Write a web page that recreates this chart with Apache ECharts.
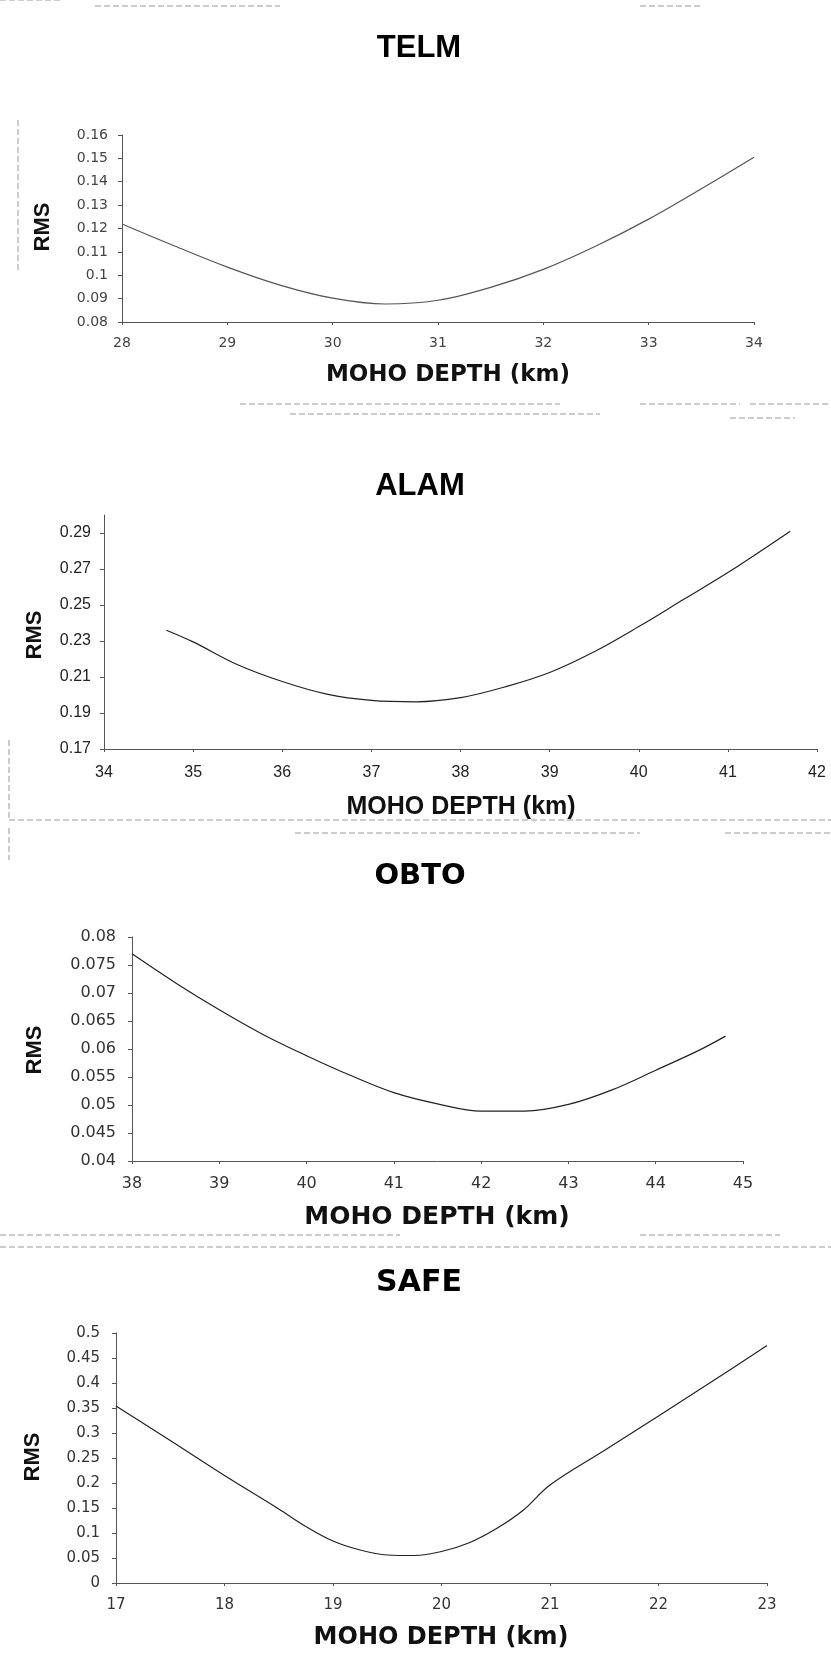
<!DOCTYPE html>
<html>
<head>
<meta charset="utf-8">
<script src="https://cdn.jsdelivr.net/npm/echarts@6/dist/echarts.min.js"></script>
<style>
  html, body { margin: 0; padding: 0; background: #fff; }
  #chart { width: 831px; height: 1656px; }
</style>
</head>
<body>
<div id="chart"></div>
<script>
// station names (panel titles)
const stations = ["TELM", "ALAM", "OBTO", "SAFE"];

// TELM
const telmDepth = [28, 28.5, 29, 29.5, 30, 30.5, 31, 31.5, 32, 32.5, 33, 33.5, 34];
const telmRms = [0.1219, 0.1125, 0.1035, 0.0958, 0.0902, 0.0877, 0.0893, 0.0948, 0.1025, 0.1125, 0.1240, 0.1370, 0.1505];

// ALAM
const alamDepth = [34.7, 35, 35.5, 36, 36.5, 37, 37.5, 38, 38.5, 39, 39.5, 40, 40.5, 41, 41.7];
const alamRms = [0.236, 0.2295, 0.2168, 0.2075, 0.2005, 0.1970, 0.1962, 0.1985, 0.2045, 0.2125, 0.2240, 0.2380, 0.2530, 0.2680, 0.2910];

// OBTO
const obtoDepth = [38, 38.5, 39, 39.5, 40, 40.5, 41, 41.5, 42, 42.5, 43, 43.5, 44, 44.5, 44.8];
const obtoRms = [0.0770, 0.0718, 0.0670, 0.0626, 0.0588, 0.0553, 0.0522, 0.0502, 0.0489, 0.0489, 0.0501, 0.0527, 0.0562, 0.0598, 0.0623];

// SAFE
const safeDepth = [17, 17.5, 18, 18.5, 18.75, 19, 19.25, 19.5, 19.75, 20, 20.25, 20.5, 20.75, 21, 21.5, 22, 22.5, 23];
const safeRms = [0.354, 0.285, 0.215, 0.148, 0.113, 0.084, 0.066, 0.056, 0.055, 0.063, 0.080, 0.108, 0.145, 0.196, 0.265, 0.334, 0.404, 0.475];

// axis ranges per panel
const xRanges = [[28, 34], [34, 42], [38, 45], [17, 23]];
const yRanges = [[0.08, 0.16, 0.01], [0.17, 0.30, 0.02], [0.04, 0.08, 0.005], [0, 0.5, 0.05]];

const xTitle = "MOHO DEPTH (km)";
const yTitle = "RMS";

const pairs = (xs, ys) => xs.map((x, i) => [x, ys[i]]);
const panelData = [
  pairs(telmDepth, telmRms),
  pairs(alamDepth, alamRms),
  pairs(obtoDepth, obtoRms),
  pairs(safeDepth, safeRms)
];

// layout of each panel (px)
const grids = [
  { left: 122, top: 135, width: 632, height: 187 },
  { left: 104, top: 515, width: 713, height: 234 },
  { left: 132, top: 937, width: 611, height: 224 },
  { left: 116, top: 1333, width: 651, height: 250 }
];
const tickFont = [
  { fontFamily: "DejaVu Sans", fontSize: 14, color: "#444" },
  { fontFamily: "Liberation Sans", fontSize: 16, color: "#222" },
  { fontFamily: "DejaVu Sans", fontSize: 16, color: "#333" },
  { fontFamily: "DejaVu Sans", fontSize: 15, color: "#333" }
];
const yMargin = [14, 13, 16, 16];
const xMargin = [14, 16, 15, 15];

const titlePos = [[419, 48], [420, 486], [420, 876], [419, 1283]];
const titleFont = ["Liberation Sans", "Liberation Sans", "DejaVu Sans", "DejaVu Sans"];
const titleSize = [31, 31, 29, 30];
const xTitlePos = [[448, 375], [461, 807], [437, 1217], [441, 1638]];
const xTitleFont = ["DejaVu Sans", "Liberation Sans", "DejaVu Sans", "DejaVu Sans"];
const xTitleSize = [23, 25, 25, 24];
const yTitlePos = [[43, 227], [35, 635], [35, 1050], [33, 1457]];

const xAxes = grids.map((g, i) => ({
  type: "value",
  gridIndex: i,
  min: xRanges[i][0],
  max: xRanges[i][1],
  interval: 1,
  axisLine: { show: true, onZero: false, lineStyle: { color: "#555", width: 1 } },
  axisTick: { show: true, length: 3, lineStyle: { color: "#555" } },
  splitLine: { show: false },
  axisLabel: Object.assign({ margin: xMargin[i] }, tickFont[i])
}));

const yAxes = grids.map((g, i) => ({
  type: "value",
  gridIndex: i,
  min: yRanges[i][0],
  max: yRanges[i][1],
  interval: yRanges[i][2],
  axisLine: { show: true, lineStyle: { color: "#555", width: 1 } },
  axisTick: { show: true, length: 4, lineStyle: { color: "#555" } },
  splitLine: { show: false },
  axisLabel: Object.assign({ margin: yMargin[i], showMaxLabel: i !== 1 }, tickFont[i])
}));

const series = panelData.map((d, i) => ({
  type: "line",
  name: stations[i],
  xAxisIndex: i,
  yAxisIndex: i,
  data: d,
  smooth: 0.35,
  showSymbol: false,
  lineStyle: { color: i === 0 ? "#555" : "#222", width: 1.2 }
}));

const texts = [];
stations.forEach((s, i) => {
  texts.push({
    type: "text", x: titlePos[i][0], y: titlePos[i][1],
    style: { text: s, fontFamily: titleFont[i], fontSize: titleSize[i], fontWeight: "bold",
      fill: "#000", align: "center", verticalAlign: "middle" }
  });
  texts.push({
    type: "text", x: xTitlePos[i][0], y: xTitlePos[i][1],
    style: { text: xTitle, fontFamily: xTitleFont[i], fontSize: xTitleSize[i], fontWeight: "bold",
      fill: "#111", align: "center", verticalAlign: "middle" }
  });
  texts.push({
    type: "text", x: yTitlePos[i][0], y: yTitlePos[i][1], rotation: Math.PI / 2,
    style: { text: yTitle, fontFamily: "Liberation Sans", fontSize: 22, fontWeight: "bold",
      fill: "#111", align: "center", verticalAlign: "middle" }
  });
});

// faint scan lines between the panels
const scanLines = [
  [0, 0, 60, 0], [95, 6, 280, 6], [640, 6, 700, 6],
  [18, 120, 18, 272],
  [240, 404, 560, 404], [640, 404, 740, 404], [750, 404, 831, 404],
  [290, 414, 600, 414], [730, 418, 795, 418],
  [9, 740, 9, 820], [9, 820, 831, 820],
  [295, 833, 640, 833], [725, 833, 831, 833], [9, 828, 9, 860],
  [0, 1235, 400, 1235], [640, 1235, 780, 1235], [0, 1247, 831, 1247]
];
scanLines.forEach(l => texts.push({
  type: "line",
  shape: { x1: l[0], y1: l[1], x2: l[2], y2: l[3] },
  style: { stroke: "#999", lineWidth: 1, lineDash: [6, 3] },
  silent: true
}));

const chart = echarts.init(document.getElementById("chart"));
chart.setOption({
  animation: false,
  backgroundColor: "#fff",
  grid: grids,
  xAxis: xAxes,
  yAxis: yAxes,
  series: series,
  graphic: texts
});
</script>
</body>
</html>
